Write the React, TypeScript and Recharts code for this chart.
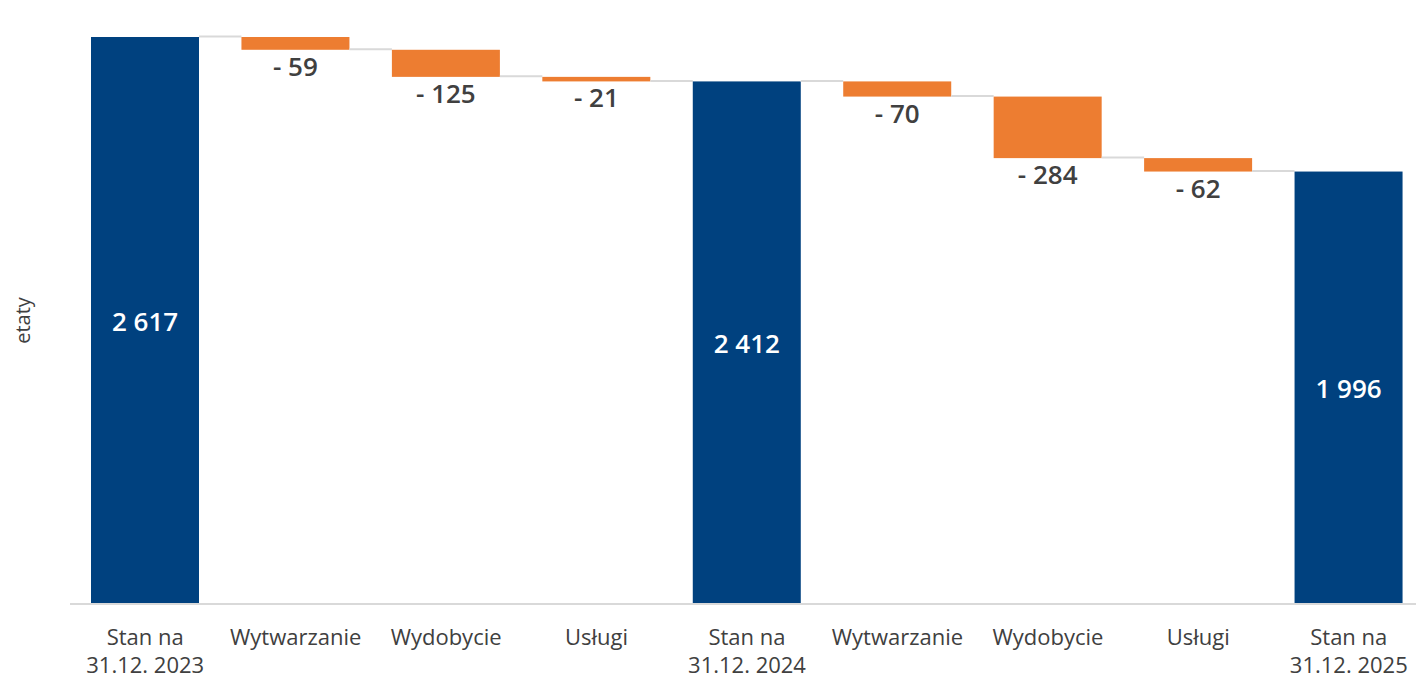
import { BarChart, Bar, XAxis, YAxis, Cell, LabelList } from "recharts";

const categories = [
  "Stan na\n31.12. 2023",
  "Wytwarzanie",
  "Wydobycie",
  "Usługi",
  "Stan na\n31.12. 2024",
  "Wytwarzanie",
  "Wydobycie",
  "Usługi",
  "Stan na\n31.12. 2025",
];
const values = [2617, -59, -125, -21, 2412, -70, -284, -62, 1996];
const isTotal = [true, false, false, false, true, false, false, false, true];

const TOTAL_COLOR = "#00417F";
const CHANGE_COLOR = "#ED7D31";
const LINE_COLOR = "#D9D9D9";
const TEXT_COLOR = "#404040";
const FONT = "'Open Sans', 'Noto Sans', sans-serif";

const CHART_W = 1424;
const CHART_H = 679;
const PLOT_LEFT = 70;
const BAR_SIZE = 108;
const GAP = (CHART_W - PLOT_LEFT) / categories.length - BAR_SIZE;

// zbudowanie danych kaskadowych (podstawa niewidoczna + wartość)
let running = 0;
const data = categories.map((name, i) => {
  const v = values[i];
  if (isTotal[i]) {
    running = v;
    return { name, base: 0, value: v, total: true, raw: v };
  }
  running = running + v;
  return { name, base: running, value: -v, total: false, raw: v };
});

const fmt = (n: number) => {
  const s = Math.abs(n).toString().replace(/\B(?=(\d{3})+(?!\d))/g, " ");
  return n < 0 ? "- " + s : s;
};

const WaterfallShape = (props: any) => {
  const { x, y, width, height, index, payload } = props;
  const lineY = payload.total ? y : y + height;
  const last = index === data.length - 1;
  return (
    <g>
      <rect x={x} y={y} width={width} height={height} fill={payload.total ? TOTAL_COLOR : CHANGE_COLOR} />
      {!last && (
        <line x1={x + width} x2={x + width + GAP} y1={lineY - 0.5} y2={lineY - 0.5} stroke={LINE_COLOR} strokeWidth={2} />
      )}
    </g>
  );
};

const ValueLabel = (props: any) => {
  const { x, y, width, height, index } = props;
  const d = data[index];
  if (d.total) {
    return (
      <text x={x + width / 2} y={y + height / 2} textAnchor="middle" dominantBaseline="central"
        fill="#FFFFFF" fontSize={26} fontWeight={600} fontFamily={FONT}>
        {fmt(d.raw)}
      </text>
    );
  }
  return (
    <text x={x + width / 2} y={y + height + 16} textAnchor="middle" dominantBaseline="central"
      fill={TEXT_COLOR} fontSize={26} fontWeight={600} fontFamily={FONT}>
      {fmt(d.raw)}
    </text>
  );
};

const CategoryTick = (props: any) => {
  const { x, y, payload } = props;
  const lines = String(payload.value).split("\n");
  return (
    <text x={x} y={y} textAnchor="middle" fill={TEXT_COLOR} fontSize={22} fontFamily={FONT}>
      {lines.map((l, i) => (
        <tspan key={i} x={x} dy={i === 0 ? 33 : 28}>{l}</tspan>
      ))}
    </text>
  );
};

export default function App() {
  return (
    <div style={{ position: "fixed", left: 0, top: 0, width: 1416, height: 679, overflow: "hidden", background: "#fff" }}>
      <BarChart width={CHART_W} height={CHART_H} data={data} barSize={BAR_SIZE}
        margin={{ top: 37, right: 0, bottom: 0, left: 0 }}>
        <XAxis dataKey="name" height={75} interval={0} tickLine={false}
          axisLine={{ stroke: LINE_COLOR, strokeWidth: 2 }} tick={<CategoryTick />} />
        <YAxis width={PLOT_LEFT} domain={[0, 2617]} axisLine={false} tickLine={false} tick={false}
          label={{
            content: (p: any) => (
              <text x={22} y={p.viewBox.y + p.viewBox.height / 2} transform={`rotate(-90, 22, ${p.viewBox.y + p.viewBox.height / 2})`}
                textAnchor="middle" dominantBaseline="central" fill={TEXT_COLOR} fontSize={20} fontFamily={FONT}>
                etaty
              </text>
            ),
          }} />
        <Bar dataKey="base" stackId="w" fill="transparent" isAnimationActive={false} />
        <Bar dataKey="value" stackId="w" isAnimationActive={false} shape={<WaterfallShape />}>
          {data.map((d, i) => (
            <Cell key={i} fill={d.total ? TOTAL_COLOR : CHANGE_COLOR} />
          ))}
          <LabelList dataKey="value" content={<ValueLabel />} />
        </Bar>
      </BarChart>
    </div>
  );
}
